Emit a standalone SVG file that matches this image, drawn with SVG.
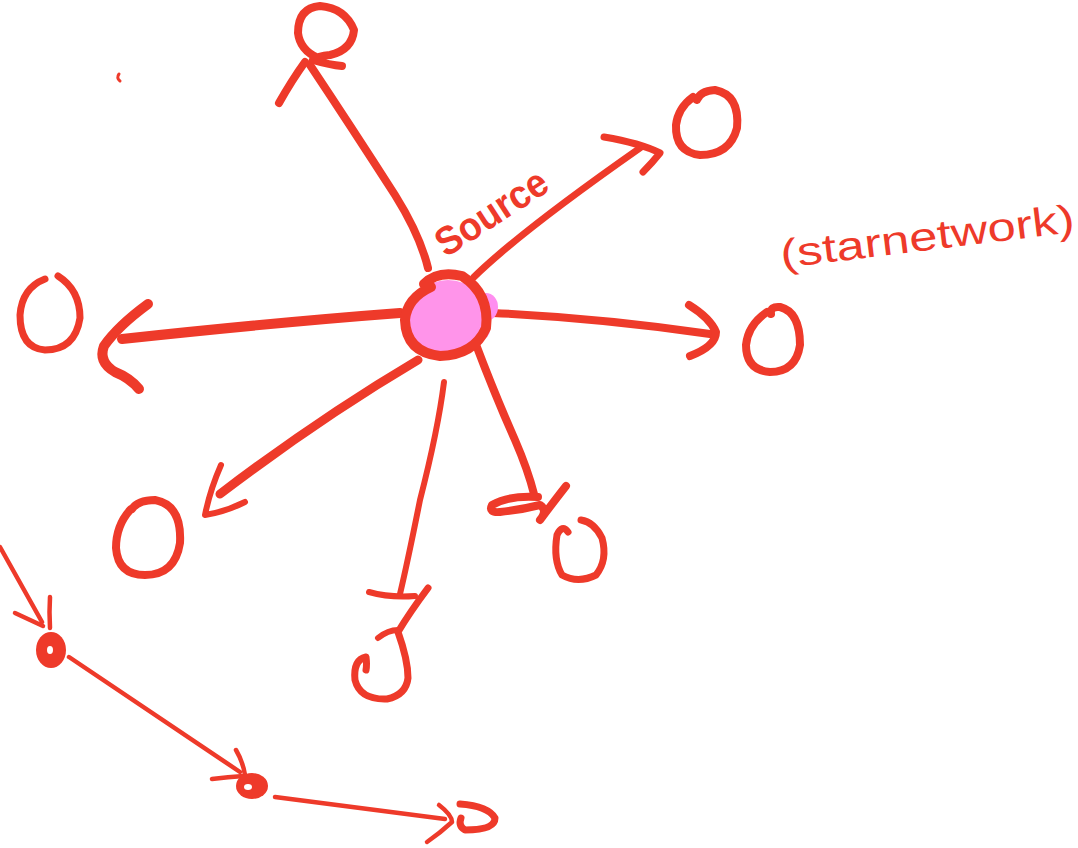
<svg xmlns="http://www.w3.org/2000/svg" width="1078" height="848" viewBox="0 0 1078 848">
  <style>
    .ink { fill: none; stroke: #ee3a2a; stroke-linecap: round; stroke-linejoin: round; }
    .w9 { stroke-width: 9; }
    .w8 { stroke-width: 8; }
    .w7 { stroke-width: 7; }
    .w6 { stroke-width: 6; }
    .w4 { stroke-width: 4.5; }
    .blob { fill: #ee3a2a; }
    .label { fill: #ee3a2a; font-family: "Liberation Sans", "DejaVu Sans", sans-serif; }
  </style>
  <rect width="1078" height="848" fill="#ffffff"/>

  <!-- stray pen mark -->
  <path class="ink" d="M119 74 Q116 78 120 81" stroke-width="3"/>

  <!-- connectors: source spokes and the chain -->
  <g id="connectors">
    <!-- to top node -->
    <path class="ink w8" d="M428 268 Q420 235 395 195 Q350 125 310 65"/>
    <path class="ink w8" d="M305 62 Q292 80 279 103"/>
    <!-- to top-right node -->
    <path class="ink w7" d="M474 277 Q520 232 640 148"/>
    <path class="ink w7" d="M604 137 Q640 143 660 153 Q652 163 643 172"/>
    <!-- to right node -->
    <path class="ink w8" d="M493 313 Q600 318 710 334"/>
    <path class="ink w8" d="M689 305 Q710 318 716 332 Q716 346 690 356"/>
    <!-- to left node -->
    <path class="ink" stroke-width="10" d="M400 313 Q280 322 122 339"/>
    <path class="ink" stroke-width="10" d="M148 304 Q118 326 104 346 Q98 362 115 372 Q130 378 139 389"/>
    <!-- to bottom-left node -->
    <path class="ink w9" d="M418 360 Q320 418 220 494"/>
    <path class="ink w6" d="M221 465 Q210 490 205 515 Q225 512 245 502"/>
    <!-- to bottom node -->
    <path class="ink w6" d="M444 382 Q438 430 420 500 Q408 560 400 594"/>
    <!-- to bottom-right node -->
    <path class="ink w8" d="M475 342 Q495 395 515 440 Q528 470 534 494"/>
    <path class="ink w8" d="M538 497 Q510 495 492 505 Q488 513 500 512 Q520 510 540 505 Q548 510 540 520 Q555 500 566 486"/>

    <!-- chain -->
    <path class="ink w4" d="M0 547 L42 622"/>
    <path class="ink w4" d="M15 613 L43 626 M50 597 Q49 612 50 628"/>
    <path class="ink w4" d="M69 657 L240 772"/>
    <path class="ink w4" d="M236 750 Q243 762 245 775 M212 779 Q228 777 244 776"/>
    <path class="ink w4" d="M275 797 L445 819"/>
    <path class="ink w4" d="M439 805 Q452 815 452 822 Q440 833 427 842"/>
  </g>

  <!-- source node -->
  <g id="node-source">
    <ellipse cx="486" cy="307" rx="12" ry="14" fill="#ff8ef0"/>
    <ellipse cx="482" cy="330" rx="8" ry="9" fill="#ff8ef0"/>
    <ellipse cx="448" cy="318" rx="40" ry="38" fill="#ff94ea"/>
    <path class="ink" stroke-width="10" d="M431 287 Q407 298 405 320 Q406 352 440 356 Q474 355 486 328 Q490 294 462 276 Q438 270 424 284"/>
  </g>

  <!-- outer nodes -->
  <g id="node-top">
    <path class="ink w8" d="M318 58 Q300 50 298 33 Q298 8 320 6 Q345 8 354 30 Q352 50 330 55 Q318 56 313 60 Q330 65 342 66"/>
  </g>
  <g id="node-top-right">
    <path class="ink w8" d="M693 97 Q678 108 676 125 Q675 152 700 155 Q730 155 737 128 Q740 95 715 90 Q700 91 697 100"/>
  </g>
  <g id="node-right">
    <path class="ink w8" d="M767 312 Q748 325 746 345 Q746 370 770 372 Q796 372 800 345 Q800 312 780 307 Q770 306 771 314"/>
  </g>
  <g id="node-left">
    <path class="ink w7" d="M45 279 Q22 288 20 315 Q20 348 45 350 Q75 350 80 318 Q80 290 58 276"/>
  </g>
  <g id="node-bottom-left">
    <path class="ink w8" d="M131 509 Q116 525 116 548 Q118 575 145 575 Q175 575 180 543 Q182 505 155 500 Q138 500 132 509"/>
  </g>
  <g id="node-bottom">
    <path class="ink w6" d="M369 592 Q390 598 415 596"/>
    <path class="ink w7" d="M428 588 Q410 612 398 632 Q408 660 408 678 Q406 695 387 699 Q360 700 355 680 Q353 660 366 657 Q367 665 366 670"/>
    <path class="ink w6" d="M378 638 Q388 630 398 630"/>
  </g>
  <g id="node-bottom-right">
    <path class="ink w7" d="M568 532 Q562 524 557 535 Q553 560 562 575 Q578 584 596 575 Q608 560 602 538 Q594 522 581 520"/>
  </g>

  <!-- chain nodes -->
  <g id="node-chain-1">
    <ellipse cx="51" cy="650" rx="15" ry="18" class="blob"/>
    <ellipse cx="50" cy="650" rx="3" ry="4" fill="#ffffff"/>
  </g>
  <g id="node-chain-2">
    <ellipse cx="252" cy="786" rx="16" ry="13" class="blob"/>
    <ellipse cx="248" cy="787" rx="4" ry="3" fill="#ffffff"/>
  </g>
  <g id="node-chain-3">
    <path class="ink" stroke-width="7" d="M460 804 Q488 806 495 818 Q495 830 465 830 Q458 826 461 818"/>
  </g>

  <!-- labels -->
  <text class="label" x="0" y="0" font-size="40" font-weight="bold" transform="translate(446 258) rotate(-33)" textLength="126" lengthAdjust="spacingAndGlyphs">Source</text>
  <text class="label" x="0" y="0" font-size="40" transform="translate(782 268) rotate(-7)" textLength="296" lengthAdjust="spacingAndGlyphs">(starnetwork)</text>
</svg>
